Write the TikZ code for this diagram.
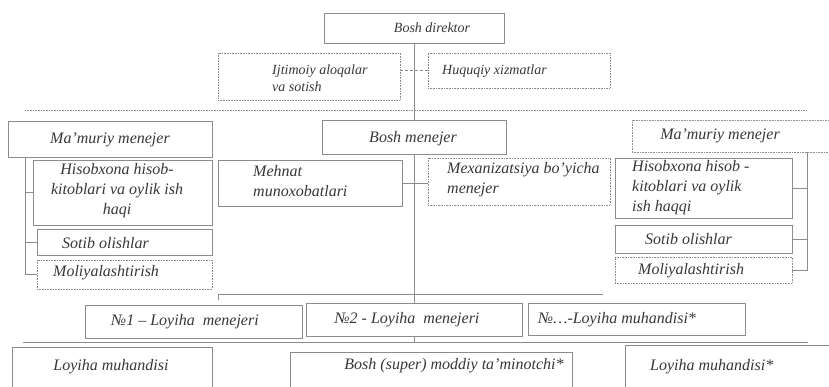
\documentclass[tikz,border=0pt]{standalone}
\usepackage{fontspec}
\setmainfont{Liberation Serif}
\usetikzlibrary{fit}
\definecolor{linec}{gray}{0.55}
\definecolor{textc}{gray}{0.22}
\begin{document}
\begin{tikzpicture}[x=1pt,y=-1pt]
\tikzset{
 box/.style={draw=linec, line width=0.6pt, inner sep=0pt, rectangle},
 dbox/.style={box, densely dotted},
 txt/.style={text=textc, font=\itshape\fontsize{16}{20}\selectfont, inner sep=0pt, align=left},
 txtc/.style={txt, align=center},
 small/.style={font=\itshape\fontsize{14}{17}\selectfont},
 conn/.style={draw=linec, line width=0.6pt},
 dconn/.style={conn, densely dashed},
}
\useasboundingbox[fill=white] (0,0) rectangle (829,386);

% top level
\node[box, fit={(324,13) (504,43)}] (dir) {};
\node[txt, small, anchor=center] (dir-t) at (432,28) {Bosh direktor};
\node[dbox, fit={(218,53) (400,100)}] (ijt) {};
\node[txt, small, anchor=west] (ijt-t) at (272,78) {Ijtimoiy aloqalar\\va sotish};
\node[dbox, fit={(428,53) (610,88)}] (huq) {};
\node[txt, small, anchor=west] (huq-t) at (442,71) {Huquqiy xizmatlar};

\coordinate (dl1) at (25,110);
\coordinate (dl2) at (807,110);
\draw[conn, densely dotted] (dl1) -- (dl2);

% managers
\node[box, fit={(8,121) (212,157)}] (mmL) {};
\node[txt, anchor=center] (mmL-t) at (110,140) {Ma'muriy menejer};
\node[box, fit={(322,120) (506,154)}] (bm) {};
\node[txt, anchor=center] (bm-t) at (413,139) {Bosh menejer};
\node[dbox, fit={(632,120) (835,152)}] (mmR) {};
\node[txt, anchor=center] (mmR-t) at (720,136) {Ma'muriy menejer};

% left column
\node[box, fit={(33,160) (212,225)}] (hisL) {};
\node[txtc, anchor=center] (hisL-t) at (117,191) {Hisobxona hisob-\\kitoblari va oylik ish\\haqi};
\node[box, fit={(37,229) (212,255)}] (sotL) {};
\node[txt, anchor=west] (sotL-t) at (62,243) {Sotib olishlar};
\node[dbox, fit={(37,260) (212,289)}] (molL) {};
\node[txt, anchor=west] (molL-t) at (53,273) {Moliyalashtirish};

% centre
\node[box, fit={(218,160) (402,206)}] (meh) {};
\node[txt, anchor=west] (meh-t) at (253,181) {Mehnat\\munoxobatlari};
\node[dbox, fit={(428,158) (610,205)}] (mex) {};
\node[txt, anchor=west] (mex-t) at (447,180) {Mexanizatsiya bo'yicha\\menejer};

% right column
\node[box, fit={(615,158) (792,218)}] (hisR) {};
\node[txt, anchor=west] (hisR-t) at (632,188) {Hisobxona hisob -\\kitoblari va oylik\\ish haqqi};
\node[box, fit={(615,225) (792,253)}] (sotR) {};
\node[txt, anchor=west] (sotR-t) at (645,239) {Sotib olishlar};
\node[dbox, fit={(615,257) (792,283)}] (molR) {};
\node[txt, anchor=west] (molR-t) at (638,271) {Moliyalashtirish};

% project row
\node[box, fit={(85,305) (302,338)}] (n1) {};
\node[txt, anchor=center] (n1-t) at (185,322) {№1 – Loyiha~~menejeri};
\node[box, fit={(306,303) (522,336)}] (n2) {};
\node[txt, anchor=center] (n2-t) at (407,320) {№2 - Loyiha~~menejeri};
\node[box, fit={(528,303) (745,335)}] (n3) {};
\node[txt, anchor=west] (n3-t) at (538,320) {№…-Loyiha muhandisi*};

% bottom row
\node[box, fit={(12,347) (212,395)}] (lm1) {};
\node[txt, anchor=center] (lm1-t) at (111,367) {Loyiha muhandisi};
\node[box, fit={(290,352) (572,395)}] (bsm) {};
\node[txt, anchor=center] (bsm-t) at (454,366) {Bosh (super) moddiy ta'minotchi*};
\node[box, fit={(625,345) (835,395)}] (lm2) {};
\node[txt, anchor=west] (lm2-t) at (650,367) {Loyiha muhandisi*};

% connectors
\draw[conn] (dir.south) -- (dir.south |- bm.north);
\draw[dconn] (ijt.east |- huq.west) -- (huq.west);
\draw[conn] (meh.east) -- (meh.east -| mex.west);
\draw[conn] (bm.south) -- (n2.north);

\coordinate (lvx) at (25,0);
\draw[conn] (mmL.south -| lvx) |- (molL.west);
\draw[conn] (hisL.west -| lvx) -- (hisL.west);
\draw[conn] (sotL.west -| lvx) -- (sotL.west);

\coordinate (rvx) at (807,0);
\draw[conn] (mmR.south -| rvx) |- (molR.east);
\draw[conn] (hisR.east) -- (hisR.east -| rvx);
\draw[conn] (sotR.east) -- (sotR.east -| rvx);

\coordinate (br1) at (218,300);
\coordinate (br2) at (603,294);
\draw[conn] (br1) |- (br2);

\coordinate (hl1) at (23,342);
\coordinate (hl2) at (808,342);
\draw[conn] (hl1) -- (hl2);
\draw[conn] (n2.south) -- (n2.south |- hl1);
\end{tikzpicture}
\end{document}
